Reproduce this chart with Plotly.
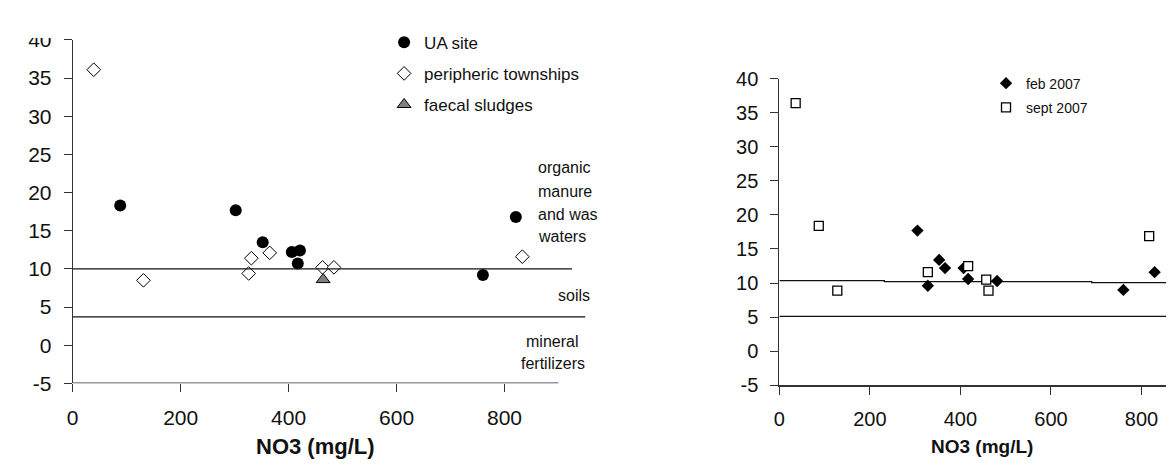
import plotly.graph_objects as go

W, H = 1174, 471
FONT = "Liberation Sans, Arial, sans-serif"

# ---------------- data: left panel ----------------
ua_x = [88, 302, 352, 406, 421, 417, 760, 821]
ua_y = [18.3, 17.7, 13.5, 12.2, 12.4, 10.7, 9.2, 16.8]
peri_x = [39, 131, 326, 331, 365, 463, 484, 833]
peri_y = [36.1, 8.5, 9.4, 11.4, 12.1, 10.2, 10.2, 11.6]
faecal_x = [464]
faecal_y = [8.6]
left_bound_y = [10.0, 3.7]
left_bound_xend = [925, 950]

# ---------------- data: right panel ----------------
feb_x = [305, 328, 353, 366, 407, 417, 481, 760, 829]
feb_y = [17.7, 9.6, 13.4, 12.2, 12.2, 10.6, 10.3, 9.0, 11.6]
sept_x = [36, 87, 128, 328, 417, 457, 462, 817]
sept_y = [36.4, 18.4, 8.9, 11.6, 12.5, 10.5, 8.9, 16.9]
right_upper_x = [0, 232, 232, 690, 690, 890]
right_upper_y = [10.35, 10.35, 10.2, 10.2, 10.07, 10.07]
right_lower_x = [0, 890]
right_lower_y = [5.1, 5.1]

xticks = [0, 200, 400, 600, 800]
yticks = [-5, 0, 5, 10, 15, 20, 25, 30, 35, 40]
ytick_labels = ["-5", "0", "5", "10", "15", "20", "25", "30", "35", "40"]


def px(x):
    return x / W


def py(y):
    return 1 - y / H


fig = go.Figure()

# left panel traces
fig.add_trace(go.Scatter(x=ua_x, y=ua_y, mode="markers", name="UA site", legendgroup="a",
                         marker=dict(symbol="circle", size=12, color="black"),
                         xaxis="x", yaxis="y", legend="legend"))
fig.add_trace(go.Scatter(x=peri_x, y=peri_y, mode="markers", name="peripheric townships",
                         legendgroup="b",
                         marker=dict(symbol="diamond", size=10.5, color="white",
                                     line=dict(color="black", width=1)),
                         xaxis="x", yaxis="y", legend="legend"))
fig.add_trace(go.Scatter(x=faecal_x, y=faecal_y, mode="markers", name="faecal sludges",
                         legendgroup="c",
                         marker=dict(symbol="triangle-up", size=12, color="#808080",
                                     line=dict(color="black", width=1)),
                         xaxis="x", yaxis="y", legend="legend"))
for yv, xe in zip(left_bound_y, left_bound_xend):
    fig.add_trace(go.Scatter(x=[0, xe], y=[yv, yv], mode="lines", showlegend=False,
                             line=dict(color="#111", width=1.3), xaxis="x", yaxis="y",
                             hoverinfo="skip"))

# right panel traces
fig.add_trace(go.Scatter(x=right_upper_x, y=right_upper_y, mode="lines", showlegend=False,
                         line=dict(color="#111", width=1.3), xaxis="x2", yaxis="y2",
                         hoverinfo="skip"))
fig.add_trace(go.Scatter(x=right_lower_x, y=right_lower_y, mode="lines", showlegend=False,
                         line=dict(color="#111", width=1.3), xaxis="x2", yaxis="y2",
                         hoverinfo="skip"))
fig.add_trace(go.Scatter(x=feb_x, y=feb_y, mode="markers", name="feb 2007", legendgroup="d",
                         marker=dict(symbol="diamond", size=9.5, color="black"),
                         xaxis="x2", yaxis="y2", legend="legend2"))
fig.add_trace(go.Scatter(x=sept_x, y=sept_y, mode="markers", name="sept 2007", legendgroup="e",
                         marker=dict(symbol="square", size=9, color="white",
                                     line=dict(color="black", width=1.3)),
                         xaxis="x2", yaxis="y2", legend="legend2"))

axcol = "#333"
common_x = dict(tickvals=xticks, ticks="outside", ticklen=8, tickcolor=axcol,
                showgrid=False, zeroline=False, ticklabelstandoff=7)
common_y = dict(tickvals=yticks, ticktext=ytick_labels, ticks="outside", ticklen=8,
                tickcolor=axcol, showgrid=False, zeroline=False, showline=True,
                linecolor=axcol, linewidth=1, range=[-5, 40], ticklabelstandoff=8)

fig.update_layout(
    width=W, height=H,
    margin=dict(l=0, r=0, t=0, b=0),
    paper_bgcolor="white", plot_bgcolor="white",
    font=dict(family=FONT, color="#111"),
    xaxis=dict(domain=[px(59), px(574.4)], range=[0, 950], showline=False,
               anchor="y", tickfont=dict(size=21), **common_x),
    yaxis=dict(domain=[py(382), py(21)], anchor="x", tickfont=dict(size=21), **common_y),
    xaxis2=dict(domain=[px(769.3), 1.0], range=[0, 889.5], showline=True,
                linecolor=axcol, linewidth=1.5, anchor="y2",
                tickfont=dict(size=20), **common_x),
    yaxis2=dict(domain=[py(384), py(61.7)], anchor="x2", tickfont=dict(size=20), **common_y),
    legend=dict(x=px(372), y=py(5), xanchor="left", yanchor="top",
                bgcolor="rgba(0,0,0,0)", font=dict(size=17, family=FONT),
                tracegroupgap=6, itemwidth=30, traceorder="grouped"),
    legend2=dict(x=px(977), y=py(50), xanchor="left", yanchor="top",
                 bgcolor="rgba(0,0,0,0)", font=dict(size=14, family=FONT),
                 tracegroupgap=3, itemwidth=30, traceorder="grouped"),
    showlegend=True,
)

# left x axis line (ends at 900)
fig.add_shape(type="line", xref="x", yref="y", x0=0, x1=900, y0=-5, y1=-5,
              line=dict(color=axcol, width=1.5))
# white band hiding the top of the left panel (as in the cropped reference)
fig.add_shape(type="rect", xref="paper", yref="paper", x0=0, x1=px(600),
              y0=py(19), y1=1, fillcolor="white", line=dict(width=0), layer="above")

ann = []


def add_text(txt, x, y, anchor="left", size=16, bold=False):
    ann.append(dict(text=("<b>%s</b>" % txt) if bold else txt, x=px(x), y=py(y),
                    xref="paper", yref="paper", xanchor=anchor, yanchor="middle",
                    showarrow=False, font=dict(size=size, family=FONT, color="#111")))


add_text("organic", 525, 155)
add_text("manure", 525, 180)
add_text("and was", 525, 204)
add_text("waters", 525, 228)
add_text("soils", 581, 290, anchor="right")
add_text("mineral", 541, 338, anchor="center")
add_text("fertilizers", 542, 361, anchor="center")
add_text("NO3 (mg/L)", 303, 448, anchor="center", size=22, bold=True)
add_text("NO3 (mg/L)", 973, 448, anchor="center", size=19, bold=True)
fig.update_layout(annotations=ann)

fig.write_html("out.html")
